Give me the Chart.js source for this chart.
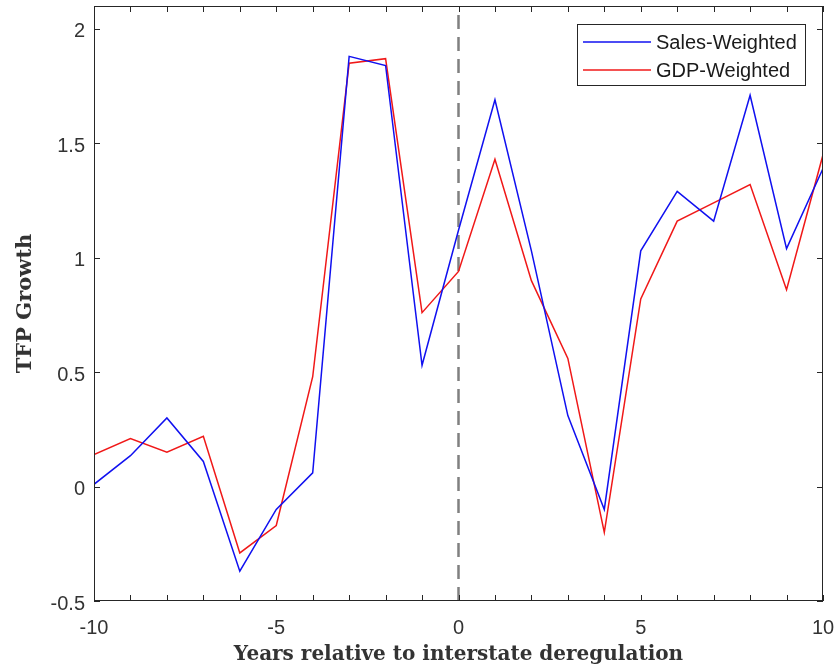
<!DOCTYPE html>
<html lang="en">
  <head>
    <meta charset="UTF-8" />
    <title>TFP Growth around interstate deregulation</title>
    <script src="https://cdn.jsdelivr.net/npm/chart.js@4.4.0/dist/chart.umd.min.js"></script>
    <style>
      body { margin: 0; background: #ffffff; }
      canvas { display: block; }
    </style>
  </head>
  <body>
    <canvas id="chart" width="840" height="671"></canvas>

    <script>
      // years relative to deregulation
      const years = [-10, -9, -8, -7, -6, -5, -4, -3, -2, -1, 0, 1, 2, 3, 4, 5, 6, 7, 8, 9, 10];
      const salesWeighted = [0.01, 0.135, 0.30, 0.11, -0.37, -0.10, 0.06, 1.88, 1.84, 0.53, 1.12, 1.69, 1.03, 0.31, -0.10, 1.03, 1.29, 1.16, 1.71, 1.04, 1.39];
      const gdpWeighted = [0.14, 0.21, 0.15, 0.22, -0.29, -0.17, 0.48, 1.85, 1.87, 0.76, 0.94, 1.43, 0.90, 0.56, -0.20, 0.82, 1.16, 1.24, 1.32, 0.86, 1.45];
      const seriesNames = ['Sales-Weighted', 'GDP-Weighted'];
      const yTicks = [-0.5, 0, 0.5, 1, 1.5, 2];
      const xTicks = [-10, -5, 0, 5, 10];
      const deregYear = 0;

      function toPoints(vals) {
        return years.map((yr, i) => ({ x: yr, y: vals[i] }));
      }

      // box, inward ticks and legend drawn on top, MATLAB style
      const matlabAxes = {
        id: 'matlabAxes',
        afterDatasetsDraw(chart) {
          const ctx = chart.ctx;
          const a = chart.chartArea;
          const xs = chart.scales.x, ys = chart.scales.y;
          ctx.save();
          ctx.strokeStyle = '#262626';
          ctx.lineWidth = 1;
          ctx.strokeRect(a.left + 0.5, a.top + 0.5, a.right - a.left - 1, a.bottom - a.top - 1);
          ctx.beginPath();
          years.forEach(v => {
            const px = Math.round(xs.getPixelForValue(v)) + 0.5;
            ctx.moveTo(px, a.bottom); ctx.lineTo(px, a.bottom - 6);
            ctx.moveTo(px, a.top); ctx.lineTo(px, a.top + 6);
          });
          yTicks.forEach(v => {
            const py = Math.round(ys.getPixelForValue(v)) + 0.5;
            ctx.moveTo(a.left, py); ctx.lineTo(a.left + 6, py);
            ctx.moveTo(a.right, py); ctx.lineTo(a.right - 6, py);
          });
          ctx.stroke();

          // legend box in upper right
          const bx = a.right - 246, by = a.top + 18, bw = 228, bh = 61;
          ctx.fillStyle = '#ffffff';
          ctx.fillRect(bx, by, bw, bh);
          ctx.strokeRect(bx + 0.5, by + 0.5, bw, bh);
          ctx.font = '20px "Liberation Sans", Arial, sans-serif';
          ctx.textBaseline = 'middle';
          ctx.fillStyle = '#1a1a1a';
          chart.data.datasets.slice(0, 2).forEach((ds, i) => {
            const ry = by + 18 + i * 28;
            ctx.strokeStyle = ds.borderColor;
            ctx.lineWidth = 1.5;
            ctx.beginPath();
            ctx.moveTo(bx + 6, ry); ctx.lineTo(bx + 74, ry);
            ctx.stroke();
            ctx.fillText(ds.label, bx + 79, ry + 1);
          });
          ctx.restore();
        }
      };

      const ctx = document.getElementById('chart').getContext('2d');
      const myChart = new Chart(ctx, {
        type: 'line',
        data: {
          datasets: [{
            label: seriesNames[0],
            data: toPoints(salesWeighted),
            borderColor: '#1010f0',
            borderWidth: 1.5,
            pointRadius: 0,
            tension: 0,
            order: 1
          }, {
            label: seriesNames[1],
            data: toPoints(gdpWeighted),
            borderColor: '#f01818',
            borderWidth: 1.5,
            pointRadius: 0,
            tension: 0,
            order: 2
          }, {
            label: 'deregulation',
            data: [{ x: deregYear, y: yTicks[0] }, { x: deregYear, y: 2.1 }],
            borderColor: '#808080',
            borderWidth: 2.5,
            borderDash: [14, 8],
            pointRadius: 0,
            order: 3
          }]
        },
        options: {
          responsive: false,
          animation: false,
          layout: { padding: { top: 6, right: 17, left: 0, bottom: 0 } },
          plugins: {
            legend: { display: false },
            tooltip: { enabled: false }
          },
          scales: {
            x: {
              type: 'linear',
              min: -10,
              max: 10,
              grid: { display: false, drawTicks: false },
              border: { display: false },
              afterBuildTicks: s => { s.ticks = xTicks.map(v => ({ value: v })); },
              afterFit: s => { s.height = 70; s.paddingLeft = 0; s.paddingRight = 0; },
              ticks: {
                padding: 15,
                color: '#333333',
                font: { family: '"Liberation Sans", Arial, sans-serif', size: 20 },
                maxRotation: 0,
                callback: v => String(v)
              },
              title: {
                display: true,
                text: 'Years relative to interstate deregulation',
                color: '#333333',
                font: { family: '"DejaVu Serif", serif', size: 20, weight: 'bold' },
                padding: { top: 0, bottom: 4 }
              }
            },
            y: {
              min: -0.5,
              max: 2.1,
              grid: { display: false, drawTicks: false },
              border: { display: false },
              afterBuildTicks: s => { s.ticks = yTicks.map(v => ({ value: v })); },
              afterFit: s => { s.width = 94; s.paddingTop = 0; s.paddingBottom = 0; },
              ticks: {
                padding: 9,
                labelOffset: 3,
                color: '#333333',
                font: { family: '"Liberation Sans", Arial, sans-serif', size: 20 },
                callback: v => String(v)
              },
              title: {
                display: true,
                text: 'TFP Growth',
                color: '#333333',
                font: { family: '"DejaVu Serif", serif', size: 21, weight: 'bold' },
                padding: { top: 13, bottom: 0 }
              }
            }
          }
        },
        plugins: [matlabAxes]
      });
    </script>
  </body>
</html>
